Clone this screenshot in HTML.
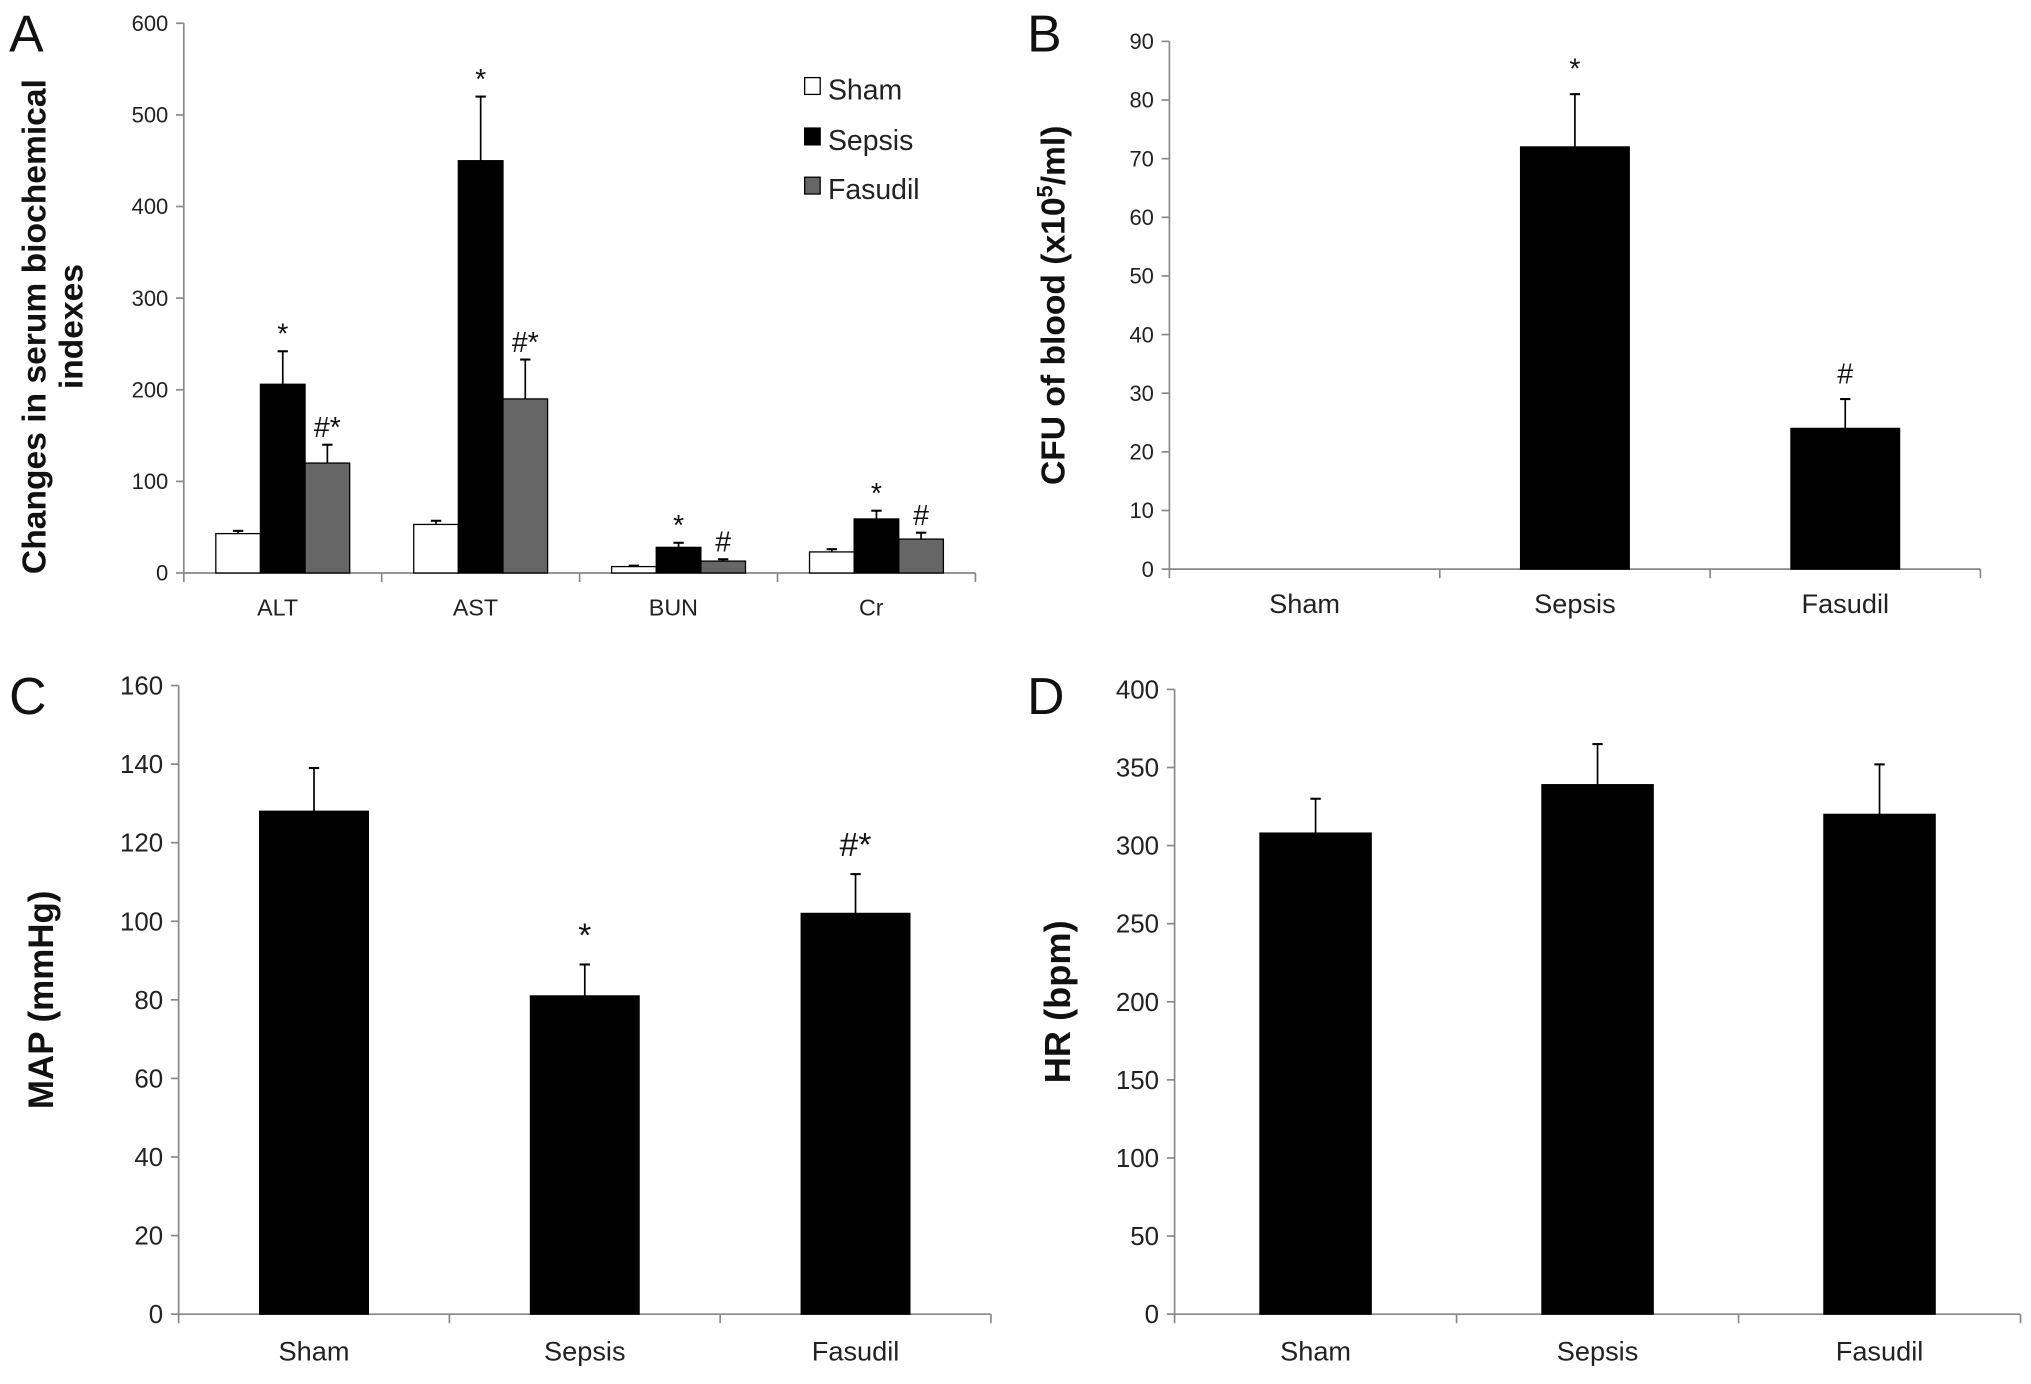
<!DOCTYPE html>
<html><head><meta charset="utf-8"><style>
html,body{margin:0;padding:0;background:#fff;}
svg{display:block;font-family:"Liberation Sans",sans-serif;}
</style></head><body>
<svg id="fig" width="2031" height="1384" viewBox="0 0 1568 1070" xmlns="http://www.w3.org/2000/svg">
<rect width="1568" height="1070" fill="#fff"/>
</svg>
<script>
const aCategories = ["ALT","AST","BUN","Cr"];
const aSham = [43,53,7,23];
const aShamErr = [3,4,1,3];
const aSepsis = [206,450,28,59];
const aSepsisErr = [36,70,5,9];
const aFasudil = [120,190,13,37];
const aFasudilErr = [20,43,2,7];
const aSepsisMarks = ["*","*","*","*"];
const aFasudilMarks = ["#*","#*","#","#"];
const aTicks = [0,100,200,300,400,500,600];

const groups = ["Sham","Sepsis","Fasudil"];
const bValues = [0,72,24];
const bErr = [0,9,5];
const bMarks = ["","*","#"];
const bTicks = [0,10,20,30,40,50,60,70,80,90];

const cValues = [128,81,102];
const cErr = [11,8,10];
const cMarks = ["","*","#*"];
const cTicks = [0,20,40,60,80,100,120,140,160];

const dValues = [308,339,320];
const dErr = [22,26,32];
const dMarks = ["","",""];
const dTicks = [0,50,100,150,200,250,300,350,400];

const svg = document.getElementById('fig');
const NS = "http://www.w3.org/2000/svg";
function el(tag, attrs, parent){
  const e = document.createElementNS(NS, tag);
  for (const k in attrs) e.setAttribute(k, attrs[k]);
  (parent||svg).appendChild(e);
  return e;
}
function txt(s, attrs, parent){ const t = el('text', attrs, parent); t.textContent = s; return t; }

function panel(cfg){
  const g = el('g', {});
  
  
  const y = v => cfg.y0 - (v - 0) / cfg.max * (cfg.y0 - cfg.yTop);
  const catW = (cfg.x1 - cfg.x0) / cfg.cats.length;
  const ya = el('line', {x1:cfg.x0, y1:cfg.yTop, x2:cfg.x0, y2:cfg.y0, stroke:'#888', 'stroke-width':1.3}, g);
  
  
  const xa = el('line', {x1:cfg.x0, y1:cfg.y0, x2:cfg.x1, y2:cfg.y0, stroke:'#888', 'stroke-width':1.3}, g);
  
  
  cfg.ticks.forEach(t => {
    el('line', {x1:cfg.x0-6, y1:y(t), x2:cfg.x0, y2:y(t), stroke:'#888', 'stroke-width':1.3}, g);
    const tl = txt(String(t), {x:cfg.x0-12, y:y(t)+cfg.tickFs*0.35, 'font-size':cfg.tickFs, 'text-anchor':'end', fill:'#222'}, g);
    
    
  });
  for (let i=0;i<=cfg.cats.length;i++){
    el('line', {x1:cfg.x0+i*catW, y1:cfg.y0, x2:cfg.x0+i*catW, y2:cfg.y0+7, stroke:'#888','stroke-width':1.3}, g);
  }
  cfg.cats.forEach((c,i) => {
    const cl = txt(c, {x:cfg.x0+(i+0.5)*catW - (cfg.labelShift||0), y:cfg.labelY, 'font-size':cfg.catFs, 'text-anchor':'middle', fill:'#222'}, g);
    
    
  });
  const n = cfg.series.length;
  cfg.cats.forEach((c,i) => {
    const groupW = cfg.barW * n;
    const start = cfg.x0 + i*catW + (catW - groupW)/2;
    cfg.series.forEach((s,j) => {
      const v = s.values[i], e = s.err[i];
      const bx = start + j*cfg.barW;
      const top = y(v);
      const r = el('rect', {x:bx, y:top, width:cfg.barW, height:Math.max(0,cfg.y0-top), fill:s.fill, stroke:'#000', 'stroke-width':1}, g);
      
      
      if (v > 0 && e > 0){
        const cx = bx + cfg.barW/2;
        el('line', {x1:cx, y1:top, x2:cx, y2:y(v+e), stroke:'#000', 'stroke-width':1.3}, g);
        el('line', {x1:cx-4, y1:y(v+e), x2:cx+4, y2:y(v+e), stroke:'#000', 'stroke-width':1.6}, g);
      }
      const m = s.marks[i];
      if (m){
        const mt = txt(m, {x:bx+cfg.barW/2, y:y(v+e)-cfg.markGap, 'font-size':cfg.markFs, 'text-anchor':'middle', fill:'#111'}, g);
        
        
      }
    });
  });
  const ty = (cfg.y0 + cfg.yTop)/2 + (cfg.titleDy||0);
  const tt = txt('', {x:0, y:0, 'font-size':cfg.titleFs, 'font-weight':'bold', 'text-anchor':'middle', fill:'#111', transform:`translate(${cfg.titleX},${ty}) rotate(-90)`}, g);
  
  
  cfg.title.forEach((line, k) => {
    const ts = el('tspan', {x:0, dy: k===0 ? 0 : cfg.titleFs*1.1}, tt);
    if (typeof line === 'string') ts.textContent = line;
    else { line.forEach(p => { const sp = el('tspan', p.sup ? {'baseline-shift':'super','font-size':cfg.titleFs*0.65} : {}, ts); sp.textContent = p.t; }); }
  });
  const L = txt(cfg.letter, {x:cfg.letterX, y:cfg.letterY, 'font-size':40, fill:'#111'}, g);
  
  
  return g;
}

panel({name:'panel-a-serum-chart', letter:'A', letterX:6, letterY:40, x0:141, x1:753, yTop:18, y0:443, max:600,
  ticks:aTicks, tickFs:17, cats:aCategories, catFs:18, labelY:476, labelShift:4, barW:34.5, markFs:22, markGap:6,
  series:[{key:'sham',fill:'#fff',values:aSham,err:aShamErr,marks:["","","",""]},
          {key:'sepsis',fill:'#000',values:aSepsis,err:aSepsisErr,marks:aSepsisMarks},
          {key:'fasudil',fill:'#666',values:aFasudil,err:aFasudilErr,marks:aFasudilMarks}],
  title:['Changes in serum biochemical','indexes'], titleFs:26, titleX:34, titleDy:22});

panel({name:'panel-b-cfu-chart', letter:'B', letterX:793, letterY:40, x0:903, x1:1530, yTop:32, y0:440, max:90,
  ticks:bTicks, tickFs:17, cats:groups, catFs:21, labelY:474, barW:84, markFs:22, markGap:12,
  series:[{key:'cfu',fill:'#000',values:bValues,err:bErr,marks:bMarks}],
  title:[[{t:'CFU of blood (x10'},{t:'5',sup:true},{t:'/ml)'}]], titleFs:26, titleX:822});

panel({name:'panel-c-map-chart', letter:'C', letterX:6, letterY:552, x0:137, x1:765, yTop:530, y0:1016, max:160,
  ticks:cTicks, tickFs:20, cats:groups, catFs:21, labelY:1052, barW:84, markFs:26, markGap:14,
  series:[{key:'map',fill:'#000',values:cValues,err:cErr,marks:cMarks}],
  title:['MAP (mmHg)'], titleFs:27, titleX:40});

panel({name:'panel-d-hr-chart', letter:'D', letterX:793, letterY:552, x0:907, x1:1561, yTop:533, y0:1016, max:400,
  ticks:dTicks, tickFs:20, cats:groups, catFs:21, labelY:1052, barW:86, markFs:24, markGap:14,
  series:[{key:'hr',fill:'#000',values:dValues,err:dErr,marks:dMarks}],
  title:['HR (bpm)'], titleFs:28, titleX:826});

const lg = el('g', {});


[['Sham','#fff',70],['Sepsis','#000',109],['Fasudil','#666',147]].forEach(([n,f,yy]) => {
  const e = el('g', {}, lg);
  
  
  el('rect', {x:621, y:yy-10, width:12, height:13, fill:f, stroke:'#000','stroke-width':1}, e);
  txt(n, {x:639, y:yy+7, 'font-size':22, fill:'#222'}, e);
});
</script>
</body></html>
